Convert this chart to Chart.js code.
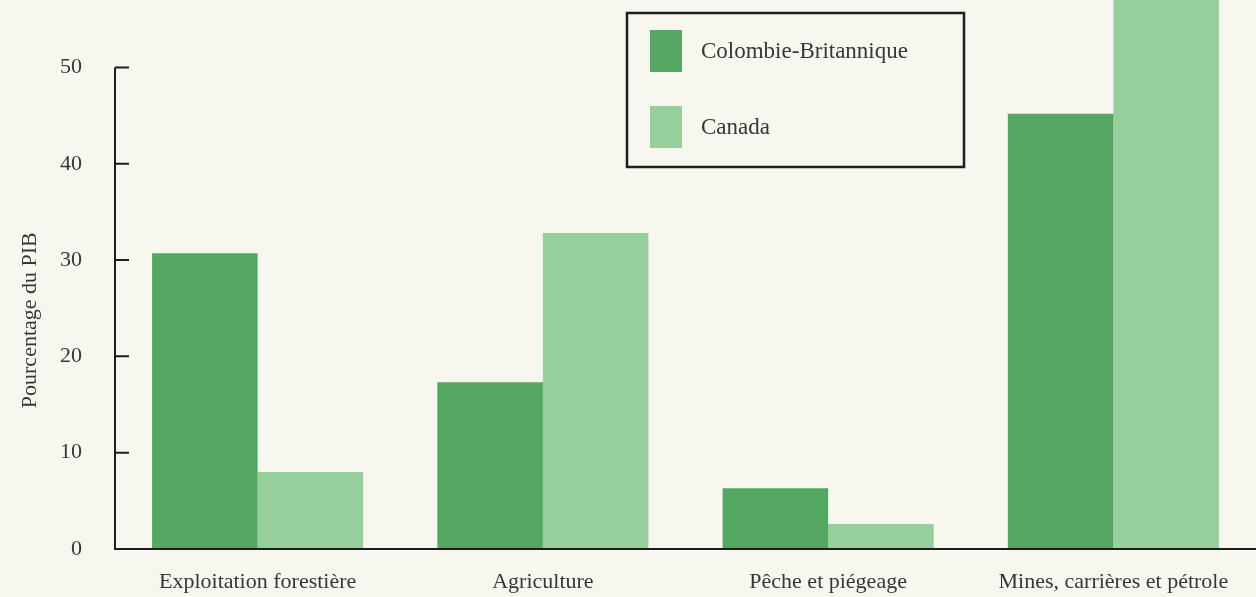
<!DOCTYPE html>
<html>
<head>
<meta charset="utf-8">
<script src="https://cdn.jsdelivr.net/npm/chart.js@4"></script>
<style>
  html, body { margin: 0; padding: 0; background: #f8f7ef; }
  #wrap { width: 1256px; height: 597px; position: relative; }
</style>
</head>
<body>
<div id="wrap"><canvas id="chart"></canvas></div>
<script>
const categories = ['Exploitation forestière', 'Agriculture', 'Pêche et piégeage', 'Mines, carrières et pétrole'];
const seriesNames = ['Colombie-Britannique', 'Canada'];
const cbValues = [30.7, 17.3, 6.3, 45.2];
const canadaValues = [8.0, 32.8, 2.6, 58];
const yTicks = [0, 10, 20, 30, 40, 50];

const colors = ['#53a763', '#97cf9c'];
const textColor = '#363636';
const serif = "'Liberation Serif', 'DejaVu Serif', serif";

// axis lines with inward ticks, custom legend box, y title
const decorPlugin = {
  id: 'decor',
  afterDraw(chart) {
    const ctx = chart.ctx;
    const y = chart.scales.y;
    const x = chart.scales.x;
    const axisX = y.right;
    const y0 = y.getPixelForValue(0);
    const yTop = y.getPixelForValue(yTicks[yTicks.length - 1]);
    ctx.save();
    ctx.strokeStyle = '#1e1e1e';
    ctx.lineWidth = 2;
    ctx.beginPath();
    ctx.moveTo(axisX, yTop);
    ctx.lineTo(axisX, y0);
    ctx.lineTo(x.right, y0);
    yTicks.forEach(t => {
      const py = y.getPixelForValue(t);
      ctx.moveTo(axisX, py);
      ctx.lineTo(axisX + 14, py);
    });
    ctx.stroke();

    // y title
    ctx.fillStyle = textColor;
    ctx.font = '22px ' + serif;
    ctx.textAlign = 'center';
    ctx.textBaseline = 'middle';
    ctx.translate(30, (y0 + yTop) / 2 + 12);
    ctx.rotate(-Math.PI / 2);
    ctx.fillText('Pourcentage du PIB', 0, 0);
    ctx.restore();

    // legend box
    ctx.save();
    ctx.fillStyle = '#f8f7ef';
    ctx.fillRect(627, 13, 337, 154);
    ctx.strokeStyle = '#1e1e1e';
    ctx.lineWidth = 2.5;
    ctx.strokeRect(627, 13, 337, 154);
    ctx.font = '23px ' + serif;
    ctx.textAlign = 'left';
    ctx.textBaseline = 'middle';
    seriesNames.forEach((name, i) => {
      const top = 30 + i * 76;
      ctx.fillStyle = colors[i];
      ctx.fillRect(650, top, 32, 42);
      ctx.fillStyle = textColor;
      ctx.fillText(name, 701, top + 22);
    });
    ctx.restore();
  }
};

new Chart(document.getElementById('chart'), {
  type: 'bar',
  data: {
    labels: categories,
    datasets: [
      { label: seriesNames[0], data: cbValues, backgroundColor: colors[0] },
      { label: seriesNames[1], data: canadaValues, backgroundColor: colors[1] }
    ]
  },
  options: {
    responsive: true,
    maintainAspectRatio: false,
    animation: false,
    layout: { padding: 0 },
    datasets: { bar: { categoryPercentage: 0.74, barPercentage: 1.0, borderWidth: 0 } },
    plugins: { legend: { display: false }, tooltip: { enabled: false } },
    scales: {
      x: {
        grid: { display: false, drawTicks: false },
        border: { display: false },
        ticks: { color: textColor, font: { family: serif, size: 22 }, padding: 20, maxRotation: 0 },
        afterFit(scale) { scale.height = 48; scale.paddingLeft = 0; scale.paddingRight = 0; }
      },
      y: {
        min: 0,
        max: 57,
        bounds: 'data',
        grid: { display: false, drawTicks: false },
        border: { display: false },
        ticks: { color: textColor, font: { family: serif, size: 22 }, padding: 33 },
        afterBuildTicks(scale) { scale.ticks = yTicks.map(v => ({ value: v })); },
        afterFit(scale) { scale.width = 115; scale.paddingTop = 0; scale.paddingBottom = 0; }
      }
    }
  },
  plugins: [decorPlugin]
});
</script>
</body>
</html>
